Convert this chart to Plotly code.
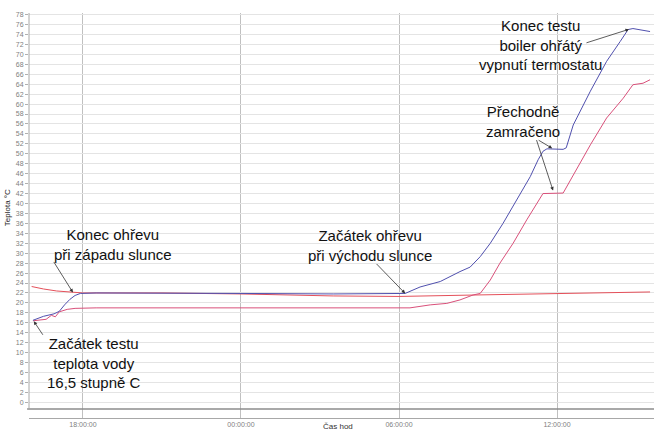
import plotly.graph_objects as go

D1 = "2014-07-01 "
D2 = "2014-07-02 "

blue_t = [D1+"16:06", D1+"16:30", D1+"16:54", D1+"17:06", D1+"17:18", D1+"17:30", D1+"17:42", D1+"17:54",
          D1+"18:30", D1+"21:00", D2+"00:00", D2+"03:30", D2+"06:00", D2+"06:14", D2+"06:48", D2+"07:34",
          D2+"08:19", D2+"08:42", D2+"09:05", D2+"09:28", D2+"09:57", D2+"10:28", D2+"10:59", D2+"11:17",
          D2+"11:28", D2+"11:37", D2+"12:14", D2+"12:21", D2+"12:37", D2+"13:16", D2+"13:53", D2+"14:24",
          D2+"14:42", D2+"14:53", D2+"15:32"]
blue_v = [16.5, 17.3, 17.8, 18.3, 19.6, 20.7, 21.5, 21.9,
          22.0, 22.0, 21.9, 21.8, 21.8, 21.9, 23.2, 24.3,
          26.3, 27.2, 29.3, 32.0, 36.0, 40.7, 45.4, 48.8,
          50.5, 51.0, 50.9, 51.2, 55.8, 62.6, 68.6, 72.6,
          75.0, 75.2, 74.6]

pink_t = [D1+"16:06", D1+"16:36", D1+"16:48", D1+"16:57", D1+"17:06", D1+"17:24", D1+"17:42", D1+"18:30",
          D2+"00:00", D2+"06:25", D2+"07:11", D2+"07:49", D2+"08:19", D2+"08:49", D2+"09:05", D2+"09:28",
          D2+"09:50", D2+"10:20", D2+"10:51", D2+"11:14", D2+"11:28", D2+"12:14", D2+"12:37", D2+"13:16",
          D2+"13:53", D2+"14:31", D2+"14:53", D2+"15:16", D2+"15:32"]
pink_v = [16.4, 16.7, 17.5, 17.2, 18.2, 18.7, 18.9, 19.0,
          19.0, 19.0, 19.6, 19.9, 20.6, 21.6, 21.9, 24.6,
          28.0, 32.0, 36.7, 40.0, 42.0, 42.1, 45.8, 51.8,
          57.2, 61.2, 63.9, 64.2, 64.9]

red_t = [D1+"16:03", D1+"16:30", D1+"17:00", D1+"17:42", D1+"18:00", D1+"21:00", D2+"00:00", D2+"03:30",
         D2+"06:00", D2+"09:00", D2+"12:00", D2+"15:32"]
red_v = [23.3, 22.8, 22.4, 22.1, 22.0, 22.0, 21.8, 21.4, 21.3, 21.6, 21.9, 22.2]

tick_vals = [D1+"18:00", D2+"00:00", D2+"06:00", D2+"12:00"]
tick_text = ["18:00:00", "00:00:00", "06:00:00", "12:00:00"]
y_ticks = list(range(0, 80, 2))

fig = go.Figure()
fig.add_trace(go.Scatter(x=red_t, y=red_v, mode="lines", line=dict(color="#e4505a", width=1)))
fig.add_trace(go.Scatter(x=pink_t, y=pink_v, mode="lines", line=dict(color="#d9507a", width=1)))
fig.add_trace(go.Scatter(x=blue_t, y=blue_v, mode="lines", line=dict(color="#5050ae", width=1)))

FONT = "Liberation Sans, Arial, sans-serif"
fig.update_layout(
    width=654, height=435,
    margin=dict(l=29, r=0, t=13, b=17),
    paper_bgcolor="white", plot_bgcolor="white",
    showlegend=False,
    font=dict(family=FONT),
    xaxis=dict(type="date", range=[D1+"15:57", D2+"15:41"], tickvals=tick_vals, ticktext=tick_text,
               showgrid=True, gridcolor="#c0c0c0", gridwidth=1, zeroline=False,
               showline=True, linecolor="#a8a8a8", linewidth=1, ticks="",
               tickfont=dict(size=7, color="#808080"), automargin=False),
    yaxis=dict(range=[-3.16, 78.33], tickvals=y_ticks, showgrid=True, gridcolor="#e4e4e4", gridwidth=1,
               zeroline=False, showline=False, ticks="outside", ticklen=3, tickcolor="#b0b0b0",
               tickfont=dict(size=7, color="#808080"), automargin=False),
)

# frame lines
fig.add_shape(type="line", xref="paper", yref="y", x0=-0.003, x1=1, y0=-1.35, y1=-1.35,
              line=dict(color="#8c8c8c", width=1.5))
fig.add_shape(type="line", xref="paper", yref="y", x0=0, x1=0, y0=-1.35, y1=78.33,
              line=dict(color="#a8a8a8", width=1))

fig.add_annotation(text="Teplota °C", xref="paper", yref="paper", x=-0.034, y=0.52, xanchor="center",
                   yanchor="middle", textangle=-90, showarrow=False, font=dict(size=8, color="#222222"))
fig.add_annotation(text="Čas hod", xref="paper", yref="paper", x=0.494, y=-0.022, xanchor="center",
                   yanchor="middle", showarrow=False, font=dict(size=8, color="#333333"))

TF = dict(size=15, color="#111111", family=FONT)
texts = [
    ("Konec ohřevu<br>při západu slunce", D1+"19:08", 31.75),
    ("Začátek testu<br>teplota vody<br>16,5 stupně C", D1+"18:25", 7.97),
    ("Začátek ohřevu<br>při východu slunce", D2+"04:54", 31.65),
    ("Přechodně<br>zamračeno", D2+"10:43", 56.6),
    ("Konec testu<br>boiler ohřátý<br>vypnutí termostatu", D2+"11:23", 71.9),
]
for t, x, y in texts:
    fig.add_annotation(text=t, x=x, y=y, xref="x", yref="y", showarrow=False, font=TF,
                       align="center", xanchor="center", yanchor="middle")

arrows = [
    (D1+"16:08", 16.3, 10, 15),
    (D1+"17:37", 22.1, -20, -32),
    (D2+"06:14", 21.9, -30, -31),
    (D2+"11:49", 51.1, -15, -9),
    (D2+"11:51", 42.6, -17, -52),
    (D2+"14:44", 75.05, -44, 14),
]
for x, y, ax, ay in arrows:
    fig.add_annotation(text="", x=x, y=y, xref="x", yref="y", ax=ax, ay=ay, showarrow=True,
                       arrowhead=2, arrowsize=0.9, arrowwidth=0.8, arrowcolor="#333333", standoff=0)

fig.write_html("out.html", config={"displayModeBar": False},
               post_script="document.body.style.margin='0';")
